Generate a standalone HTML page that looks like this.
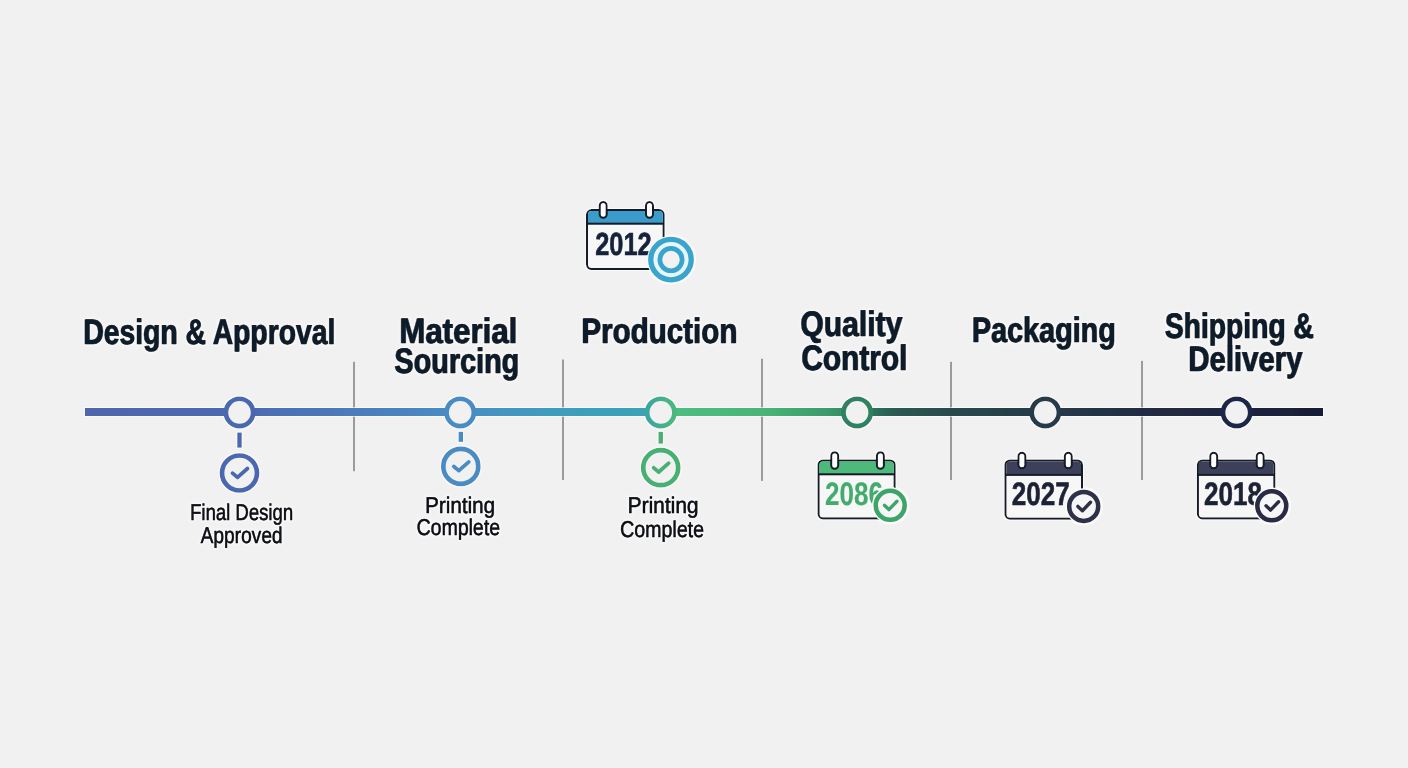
<!DOCTYPE html>
<html><head><meta charset="utf-8"><style>
html,body{margin:0;padding:0;background:#f1f1f1;}
svg{display:block;font-family:"Liberation Sans",sans-serif;text-rendering:geometricPrecision;}
</style></head><body>
<svg width="1408" height="768" viewBox="0 0 1408 768">
<defs><linearGradient id="n3" x1="0" y1="0" x2="1" y2="0"><stop offset="0" stop-color="#3aa6a2"/><stop offset="1" stop-color="#4ab97e"/></linearGradient><linearGradient id="lg" x1="85" y1="0" x2="1323" y2="0" gradientUnits="userSpaceOnUse"><stop offset="0" stop-color="#4f65ae"/><stop offset="0.125" stop-color="#4b69b1"/><stop offset="0.217" stop-color="#4b7cbc"/><stop offset="0.303" stop-color="#4a8cc4"/><stop offset="0.386" stop-color="#3c9fbc"/><stop offset="0.45" stop-color="#3aa2b8"/><stop offset="0.466" stop-color="#40ad98"/><stop offset="0.478" stop-color="#4dbd80"/><stop offset="0.55" stop-color="#47b575"/><stop offset="0.6" stop-color="#3a9a6c"/><stop offset="0.624" stop-color="#2f8462"/><stop offset="0.655" stop-color="#2a5a52"/><stop offset="0.7" stop-color="#294a4e"/><stop offset="0.776" stop-color="#263a4a"/><stop offset="0.853" stop-color="#222c44"/><stop offset="0.93" stop-color="#1e2541"/><stop offset="1" stop-color="#181d36"/></linearGradient>
<filter id="halo" filterUnits="userSpaceOnUse" x="0" y="0" width="1408" height="768">
<feMorphology in="SourceAlpha" operator="dilate" radius="1.2" result="d"/>
<feGaussianBlur in="d" stdDeviation="0.6" result="b"/>
<feFlood flood-color="#ffffff" flood-opacity="0.65"/>
<feComposite in2="b" operator="in" result="w"/>
<feMerge><feMergeNode in="w"/><feMergeNode in="SourceGraphic"/></feMerge>
</filter>
<filter id="thalo" filterUnits="userSpaceOnUse" x="0" y="0" width="1408" height="768">
<feMorphology in="SourceAlpha" operator="dilate" radius="1.2" result="d"/>
<feGaussianBlur in="d" stdDeviation="0.8" result="b"/>
<feFlood flood-color="#ffffff" flood-opacity="0.6"/>
<feComposite in2="b" operator="in" result="w"/>
<feMerge><feMergeNode in="w"/><feMergeNode in="SourceGraphic"/></feMerge>
</filter>
</defs>
<rect width="1408" height="768" fill="#f1f1f1"/>
<rect x="353" y="361.8" width="2" height="109.39999999999998" fill="#999c9f"/>
<rect x="562" y="359.5" width="2" height="120.5" fill="#999c9f"/>
<rect x="761" y="358.7" width="2" height="122.19999999999999" fill="#999c9f"/>
<rect x="950" y="361.8" width="2" height="118.19999999999999" fill="#999c9f"/>
<rect x="1141" y="360.9" width="2" height="119.10000000000002" fill="#999c9f"/>
<g filter="url(#halo)">
<rect x="85" y="408" width="1238" height="8" fill="url(#lg)"/>
<circle cx="239.5" cy="412.4" r="13.65" fill="#f1f1f1" stroke="#4a68b0" stroke-width="4.7"/>
<circle cx="460.2" cy="412.4" r="13.65" fill="#f1f1f1" stroke="#4a8cc4" stroke-width="4.7"/>
<circle cx="660.8" cy="412.4" r="13.65" fill="#f1f1f1" stroke="url(#n3)" stroke-width="4.7"/>
<circle cx="857.1" cy="412.4" r="13.65" fill="#f1f1f1" stroke="#2f8262" stroke-width="4.7"/>
<circle cx="1045.3" cy="412.4" r="13.65" fill="#f1f1f1" stroke="#263a4a" stroke-width="4.7"/>
<circle cx="1236.6" cy="412.4" r="13.65" fill="#f1f1f1" stroke="#1c2648" stroke-width="4.7"/>
<rect x="237.25" y="432.5" width="4.5" height="15.199999999999989" fill="#4a68b0"/>
<circle cx="239.5" cy="473.0" r="17.5" fill="#f1f1f1" stroke="#4a68b0" stroke-width="4.7"/>
<path d="M232.5 473.1 L237.5 477.3 L247.5 468.5" fill="none" stroke="#4a68b0" stroke-width="3.7" stroke-linecap="round" stroke-linejoin="round"/>
<rect x="458.55" y="431.8" width="4.5" height="10.099999999999966" fill="#4a8cc4"/>
<circle cx="460.8" cy="466.4" r="17.5" fill="#f1f1f1" stroke="#4a8cc4" stroke-width="4.7"/>
<path d="M453.8 466.5 L458.8 470.7 L468.8 461.9" fill="none" stroke="#4a8cc4" stroke-width="3.7" stroke-linecap="round" stroke-linejoin="round"/>
<rect x="658.45" y="431.8" width="4.5" height="11.899999999999977" fill="#46b072"/>
<circle cx="660.7" cy="467.7" r="17.5" fill="#f1f1f1" stroke="#46b072" stroke-width="4.7"/>
<path d="M653.7 467.8 L658.7 472.0 L668.7 463.2" fill="none" stroke="#46b072" stroke-width="3.7" stroke-linecap="round" stroke-linejoin="round"/>
<rect x="587.0" y="210.1" width="76.70000000000005" height="58.900000000000006" rx="4.5" fill="#f7f7f7" stroke="#121a26" stroke-width="2.0"/><path d="M588.0 223.7 V214.1 Q588.0 211.1 591 211.1 H659.7 Q662.7 211.1 662.7 214.1 V223.7 Z" fill="#3a9ccc"/><rect x="587.0" y="222.7" width="76.70000000000005" height="2" fill="#121a26"/><rect x="599.7" y="202.0" width="7.0" height="15.8" rx="3.5" fill="#ffffff" stroke="#121a26" stroke-width="2"/><rect x="646.0" y="202.0" width="7.0" height="15.8" rx="3.5" fill="#ffffff" stroke="#121a26" stroke-width="2"/><text x="595.2" y="255.2" font-size="32" font-weight="700" fill="#15233a" stroke="#15233a" stroke-width="0.6" stroke-linejoin="round" textLength="56.5" lengthAdjust="spacingAndGlyphs">2012</text>
<circle cx="671" cy="259.6" r="24" fill="#fbfbfb"/><circle cx="671" cy="259.6" r="20.25" fill="#e6f7fb" stroke="#3aa4cc" stroke-width="5.3"/><circle cx="671" cy="259.6" r="11.15" fill="#f2f2f2" stroke="#3aa4cc" stroke-width="4.7"/>
<rect x="818.5" y="460.4" width="76.20000000000005" height="58.0" rx="4.5" fill="#f7f7f7" stroke="#121a26" stroke-width="2.0"/><path d="M819.5 474.3 V464.4 Q819.5 461.4 822.5 461.4 H890.7 Q893.7 461.4 893.7 464.4 V474.3 Z" fill="#4dba7c"/><rect x="818.5" y="473.3" width="76.20000000000005" height="2" fill="#121a26"/><rect x="831.2" y="452.20000000000005" width="7.0" height="16.49999999999999" rx="3.5" fill="#ffffff" stroke="#121a26" stroke-width="2"/><rect x="876.9" y="452.20000000000005" width="7.0" height="16.49999999999999" rx="3.5" fill="#ffffff" stroke="#121a26" stroke-width="2"/><text x="825" y="504.7" font-size="32.5" font-weight="700" fill="#43ab6d" stroke="#43ab6d" stroke-width="0.15" stroke-linejoin="round" textLength="58" lengthAdjust="spacingAndGlyphs">2086</text>
<circle cx="890.2" cy="505.3" r="18.2" fill="#fbfbfb"/><circle cx="890.2" cy="505.3" r="14.5" fill="#f6f6f6" stroke="#3ea46a" stroke-width="4.5"/><path d="M884.4000000000001 505.3 L888.9000000000001 509.6 L897.0 501.2" fill="none" stroke="#3ea46a" stroke-width="3.4" stroke-linecap="round" stroke-linejoin="round"/>
<rect x="1005.4" y="460.4" width="76.60000000000002" height="58.30000000000007" rx="4.5" fill="#f7f7f7" stroke="#121a26" stroke-width="2.0"/><path d="M1006.4 474.9 V464.4 Q1006.4 461.4 1009.4 461.4 H1078 Q1081.0 461.4 1081.0 464.4 V474.9 Z" fill="#3e405a"/><rect x="1005.4" y="473.9" width="76.60000000000002" height="2" fill="#121a26"/><rect x="1018.4" y="452.8" width="7.0" height="15.400000000000023" rx="3.5" fill="#ffffff" stroke="#121a26" stroke-width="2"/><rect x="1064.8" y="452.8" width="7.0" height="15.400000000000023" rx="3.5" fill="#ffffff" stroke="#121a26" stroke-width="2"/><text x="1011.7" y="505.3" font-size="32.5" font-weight="700" fill="#1e2234" stroke="#1e2234" stroke-width="0.6" stroke-linejoin="round" textLength="58" lengthAdjust="spacingAndGlyphs">2027</text>
<circle cx="1083.7" cy="506.4" r="18.2" fill="#fbfbfb"/><circle cx="1083.7" cy="506.4" r="14.5" fill="#f6f6f6" stroke="#2e3048" stroke-width="4.5"/><path d="M1077.9 506.4 L1082.4 510.7 L1090.5 502.29999999999995" fill="none" stroke="#2e3048" stroke-width="3.4" stroke-linecap="round" stroke-linejoin="round"/>
<rect x="1197.9" y="460.4" width="76.5" height="58.0" rx="4.5" fill="#f7f7f7" stroke="#121a26" stroke-width="2.0"/><path d="M1198.9 474.9 V464.4 Q1198.9 461.4 1201.9 461.4 H1270.4 Q1273.4 461.4 1273.4 464.4 V474.9 Z" fill="#3e405a"/><rect x="1197.9" y="473.9" width="76.5" height="2" fill="#121a26"/><rect x="1210.2" y="452.8" width="7.0" height="15.400000000000023" rx="3.5" fill="#ffffff" stroke="#121a26" stroke-width="2"/><rect x="1256.7" y="452.8" width="7.0" height="15.400000000000023" rx="3.5" fill="#ffffff" stroke="#121a26" stroke-width="2"/><text x="1204" y="505.3" font-size="32.5" font-weight="700" fill="#1e2234" stroke="#1e2234" stroke-width="0.6" stroke-linejoin="round" textLength="58" lengthAdjust="spacingAndGlyphs">2018</text>
<circle cx="1271.8" cy="505.8" r="18.2" fill="#fbfbfb"/><circle cx="1271.8" cy="505.8" r="14.5" fill="#f6f6f6" stroke="#2a2c44" stroke-width="4.5"/><path d="M1266.0 505.8 L1270.5 510.1 L1278.6 501.7" fill="none" stroke="#2a2c44" stroke-width="3.4" stroke-linecap="round" stroke-linejoin="round"/>
</g>
<g filter="url(#thalo)">
<text x="83.0" y="343.8" font-size="35.3" font-weight="700" fill="#111c2c" stroke="#111c2c" stroke-width="0.7" stroke-linejoin="round" textLength="252.0" lengthAdjust="spacingAndGlyphs">Design &amp; Approval</text><text x="83.7" y="343.8" font-size="35.3" font-weight="700" fill="#111c2c" stroke="#111c2c" stroke-width="0.7" stroke-linejoin="round" textLength="252.0" lengthAdjust="spacingAndGlyphs">Design &amp; Approval</text>
<text x="399.0" y="342.8" font-size="35.3" font-weight="700" fill="#111c2c" stroke="#111c2c" stroke-width="0.7" stroke-linejoin="round" textLength="118.0" lengthAdjust="spacingAndGlyphs">Material</text><text x="399.7" y="342.8" font-size="35.3" font-weight="700" fill="#111c2c" stroke="#111c2c" stroke-width="0.7" stroke-linejoin="round" textLength="118.0" lengthAdjust="spacingAndGlyphs">Material</text>
<text x="394.0" y="372.9" font-size="35.3" font-weight="700" fill="#111c2c" stroke="#111c2c" stroke-width="0.7" stroke-linejoin="round" textLength="125.0" lengthAdjust="spacingAndGlyphs">Sourcing</text><text x="394.7" y="372.9" font-size="35.3" font-weight="700" fill="#111c2c" stroke="#111c2c" stroke-width="0.7" stroke-linejoin="round" textLength="125.0" lengthAdjust="spacingAndGlyphs">Sourcing</text>
<text x="581.0" y="343.4" font-size="35.3" font-weight="700" fill="#111c2c" stroke="#111c2c" stroke-width="0.7" stroke-linejoin="round" textLength="156.0" lengthAdjust="spacingAndGlyphs">Production</text><text x="581.7" y="343.4" font-size="35.3" font-weight="700" fill="#111c2c" stroke="#111c2c" stroke-width="0.7" stroke-linejoin="round" textLength="156.0" lengthAdjust="spacingAndGlyphs">Production</text>
<text x="800.0" y="335.7" font-size="35.3" font-weight="700" fill="#111c2c" stroke="#111c2c" stroke-width="0.7" stroke-linejoin="round" textLength="102.0" lengthAdjust="spacingAndGlyphs">Quality</text><text x="800.7" y="335.7" font-size="35.3" font-weight="700" fill="#111c2c" stroke="#111c2c" stroke-width="0.7" stroke-linejoin="round" textLength="102.0" lengthAdjust="spacingAndGlyphs">Quality</text>
<text x="801.0" y="369.8" font-size="35.3" font-weight="700" fill="#111c2c" stroke="#111c2c" stroke-width="0.7" stroke-linejoin="round" textLength="106.0" lengthAdjust="spacingAndGlyphs">Control</text><text x="801.7" y="369.8" font-size="35.3" font-weight="700" fill="#111c2c" stroke="#111c2c" stroke-width="0.7" stroke-linejoin="round" textLength="106.0" lengthAdjust="spacingAndGlyphs">Control</text>
<text x="971.5" y="341.9" font-size="35.3" font-weight="700" fill="#111c2c" stroke="#111c2c" stroke-width="0.7" stroke-linejoin="round" textLength="144.0" lengthAdjust="spacingAndGlyphs">Packaging</text><text x="972.2" y="341.9" font-size="35.3" font-weight="700" fill="#111c2c" stroke="#111c2c" stroke-width="0.7" stroke-linejoin="round" textLength="144.0" lengthAdjust="spacingAndGlyphs">Packaging</text>
<text x="1164.5" y="337.8" font-size="35.3" font-weight="700" fill="#111c2c" stroke="#111c2c" stroke-width="0.7" stroke-linejoin="round" textLength="149.0" lengthAdjust="spacingAndGlyphs">Shipping &amp;</text><text x="1165.2" y="337.8" font-size="35.3" font-weight="700" fill="#111c2c" stroke="#111c2c" stroke-width="0.7" stroke-linejoin="round" textLength="149.0" lengthAdjust="spacingAndGlyphs">Shipping &amp;</text>
<text x="1188.0" y="371.0" font-size="35.3" font-weight="700" fill="#111c2c" stroke="#111c2c" stroke-width="0.7" stroke-linejoin="round" textLength="114.0" lengthAdjust="spacingAndGlyphs">Delivery</text><text x="1188.7" y="371.0" font-size="35.3" font-weight="700" fill="#111c2c" stroke="#111c2c" stroke-width="0.7" stroke-linejoin="round" textLength="114.0" lengthAdjust="spacingAndGlyphs">Delivery</text>
<text x="190.0" y="519.7" font-size="22.8" font-weight="400" fill="#0e121a" stroke="#0e121a" stroke-width="0.5" stroke-linejoin="round" textLength="103.0" lengthAdjust="spacingAndGlyphs">Final Design</text><text x="190.2" y="519.7" font-size="22.8" font-weight="400" fill="#0e121a" stroke="#0e121a" stroke-width="0.5" stroke-linejoin="round" textLength="103.0" lengthAdjust="spacingAndGlyphs">Final Design</text>
<text x="200.5" y="543.2" font-size="22.8" font-weight="400" fill="#0e121a" stroke="#0e121a" stroke-width="0.5" stroke-linejoin="round" textLength="82.0" lengthAdjust="spacingAndGlyphs">Approved</text><text x="200.7" y="543.2" font-size="22.8" font-weight="400" fill="#0e121a" stroke="#0e121a" stroke-width="0.5" stroke-linejoin="round" textLength="82.0" lengthAdjust="spacingAndGlyphs">Approved</text>
<text x="425.0" y="512.7" font-size="22.8" font-weight="400" fill="#0e121a" stroke="#0e121a" stroke-width="0.5" stroke-linejoin="round" textLength="70.0" lengthAdjust="spacingAndGlyphs">Printing</text><text x="425.2" y="512.7" font-size="22.8" font-weight="400" fill="#0e121a" stroke="#0e121a" stroke-width="0.5" stroke-linejoin="round" textLength="70.0" lengthAdjust="spacingAndGlyphs">Printing</text>
<text x="416.5" y="535.3" font-size="22.8" font-weight="400" fill="#0e121a" stroke="#0e121a" stroke-width="0.5" stroke-linejoin="round" textLength="83.5" lengthAdjust="spacingAndGlyphs">Complete</text><text x="416.7" y="535.3" font-size="22.8" font-weight="400" fill="#0e121a" stroke="#0e121a" stroke-width="0.5" stroke-linejoin="round" textLength="83.5" lengthAdjust="spacingAndGlyphs">Complete</text>
<text x="627.5" y="513.4" font-size="22.8" font-weight="400" fill="#0e121a" stroke="#0e121a" stroke-width="0.5" stroke-linejoin="round" textLength="71.0" lengthAdjust="spacingAndGlyphs">Printing</text><text x="627.7" y="513.4" font-size="22.8" font-weight="400" fill="#0e121a" stroke="#0e121a" stroke-width="0.5" stroke-linejoin="round" textLength="71.0" lengthAdjust="spacingAndGlyphs">Printing</text>
<text x="620.0" y="536.5" font-size="22.8" font-weight="400" fill="#0e121a" stroke="#0e121a" stroke-width="0.5" stroke-linejoin="round" textLength="84.0" lengthAdjust="spacingAndGlyphs">Complete</text><text x="620.2" y="536.5" font-size="22.8" font-weight="400" fill="#0e121a" stroke="#0e121a" stroke-width="0.5" stroke-linejoin="round" textLength="84.0" lengthAdjust="spacingAndGlyphs">Complete</text>
</g>
</svg>
</body></html>
